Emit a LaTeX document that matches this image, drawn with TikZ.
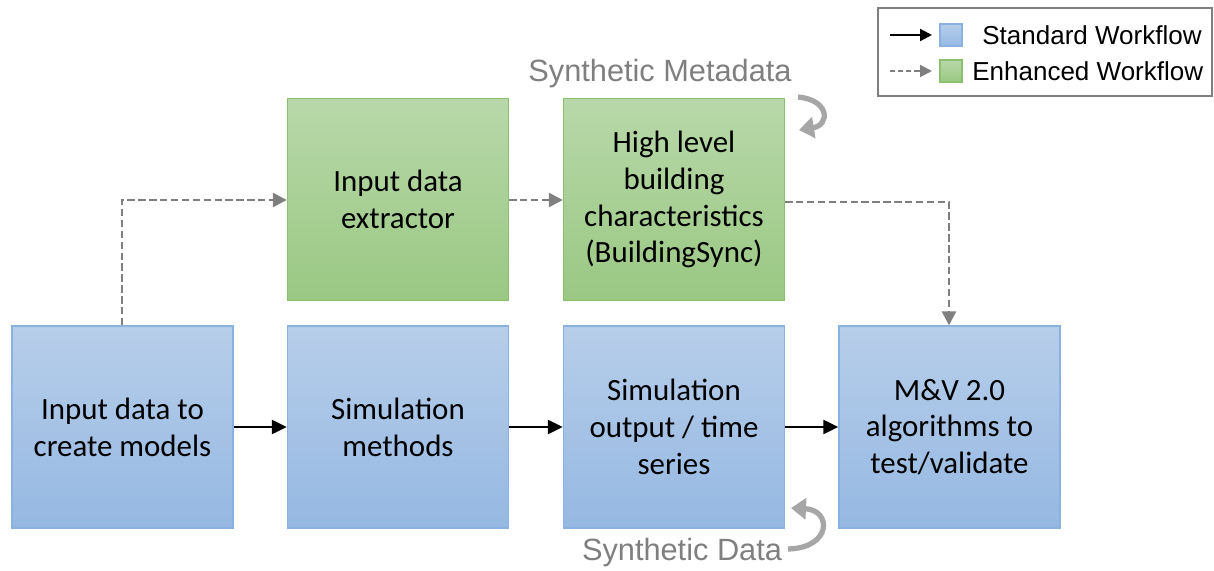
\documentclass[tikz,border=0pt]{standalone}
\usepackage{fontspec}
\setmainfont{Carlito}
\newfontfamily\arialf{Liberation Sans}
\usetikzlibrary{arrows.meta}
\definecolor{bluetop}{HTML}{B7CEEA}
\definecolor{bluebot}{HTML}{95B8E2}
\definecolor{blueline}{HTML}{8AB2E0}
\definecolor{greentop}{HTML}{B8D8A9}
\definecolor{greenbot}{HTML}{9AC883}
\definecolor{greenline}{HTML}{8CC071}
\definecolor{dgray}{HTML}{7F7F7F}
\definecolor{lgray}{HTML}{A6A6A6}
\tikzset{
  bluebox/.style={draw=blueline, line width=0.8pt, top color=bluetop, bottom color=bluebot,
    minimum width=4.42cm, minimum height=4.04cm, align=center, font=\fontsize{17.6}{21}\selectfont, inner sep=0pt},
  greenbox/.style={bluebox, draw=greenline, top color=greentop, bottom color=greenbot},
  solidarrow/.style={line width=1.3pt, -{Triangle[length=0.3cm,width=0.28cm]}},
  dasharrow/.style={draw=dgray, line width=1.5pt, dash pattern=on 4.2pt off 2pt, -{Triangle[length=0.28cm,width=0.28cm]}},
  curvearrow/.style={draw=lgray, line width=3pt, -{Triangle[length=0.3cm,width=0.42cm]}},
  graylabel/.style={text=dgray, font=\arialf\fontsize{17.5}{21}\selectfont, inner sep=0pt},
  legtext/.style={font=\arialf\fontsize{14.8}{18}\selectfont, anchor=west, inner sep=0pt},
}
\begin{document}
\begin{tikzpicture}[x=0.02cm,y=-0.02cm]
\useasboundingbox (0,0) rectangle (1214,571);
% boxes
\node[bluebox] (b1) at (122.5,427) {Input data to\\create models};
\node[bluebox] (b2) at (398,427) {Simulation\\methods};
\node[bluebox] (b3) at (674,427) {Simulation\\output / time\\series};
\node[bluebox] (b4) at (949.5,427) {M\&V 2.0\\algorithms to\\test/validate};
\node[greenbox] (g1) at (398,199.5) {Input data\\extractor};
\node[greenbox] (g2) at (674,199.5) {High level\\building\\characteristics\\(BuildingSync)};
% solid arrows
\draw[solidarrow] (b1.east) -- (b2.west);
\draw[solidarrow] (b2.east) -- (b3.west);
\draw[solidarrow] (b3.east) -- (b4.west);
% dashed arrows
\coordinate (c1) at (122,200);
\coordinate (c2) at (949,202);
\draw[dasharrow] (b1.north -| c1) -- (c1) -- (g1.west |- c1);
\draw[dasharrow] (g1.east |- c1) -- (g2.west |- c1);
\draw[dasharrow] (g2.east |- c2) -- (c2) -- (b4.north -| c2);
% gray labels
\node[graylabel] (smeta) at (660,74) {Synthetic Metadata};
\node[graylabel] (sdata) at (682,553) {Synthetic Data};
\coordinate (ct1) at (798,97);
\coordinate (ct2) at (799,130);
\draw[curvearrow] (ct1) .. controls (830,100) and (830,125) .. (ct2);
\coordinate (cb1) at (788,549);
\coordinate (cb2) at (791,508);
\draw[curvearrow] (cb1) .. controls (832,548) and (832,510) .. (cb2);
% legend
\node[draw=dgray, line width=0.9pt, minimum width=6.68cm, minimum height=1.76cm, inner sep=0pt] (leg) at (1045,52) {};
\coordinate (l1a) at (890,35);
\coordinate (l1b) at (932,35);
\coordinate (l2a) at (890,71);
\coordinate (l2b) at (932,71);
\draw[line width=1.2pt, -{Triangle[length=0.24cm,width=0.24cm]}] (l1a) -- (l1b);
\draw[draw=dgray, line width=1.1pt, dash pattern=on 3pt off 1.6pt, -{Triangle[length=0.24cm,width=0.24cm]}] (l2a) -- (l2b);
\node[draw=blueline, line width=0.6pt, top color=bluetop, bottom color=bluebot, minimum size=0.44cm, inner sep=0pt] (lb) at (951,35) {};
\node[draw=greenline, line width=0.6pt, top color=greentop, bottom color=greenbot, minimum size=0.44cm, inner sep=0pt] (lg) at (951,71) {};
\node[legtext] (t1) at (982,35) {Standard Workflow};
\node[legtext] (t2) at (972,71) {Enhanced Workflow};
\end{tikzpicture}
\end{document}
